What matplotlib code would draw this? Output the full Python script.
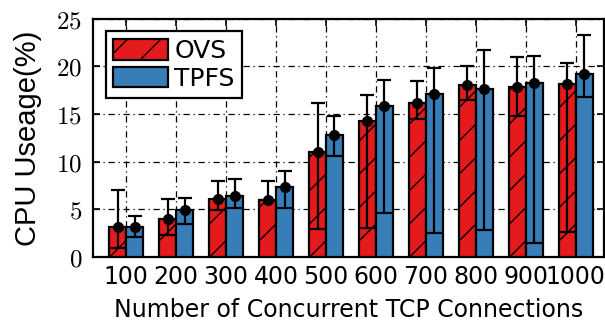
import numpy as np
import matplotlib.pyplot as plt

plt.rcParams['mathtext.fontset'] = 'cm'
plt.rcParams['hatch.linewidth'] = 1.0

connections = ['100', '200', '300', '400', '500', '600', '700', '800', '900', '1000']

ovs_mean = [3.2, 4.0, 6.1, 6.0, 11.0, 14.3, 16.2, 18.1, 17.8, 18.2]
ovs_low = [1.0, 2.3, 4.9, 6.0, 2.9, 3.05, 14.5, 16.5, 14.8, 2.6]
ovs_high = [7.0, 6.1, 8.0, 7.95, 16.15, 17.05, 18.5, 20.05, 21.0, 20.35]

tpfs_mean = [3.2, 4.95, 6.4, 7.4, 12.8, 15.85, 17.1, 17.6, 18.25, 19.2]
tpfs_low = [2.15, 3.45, 5.2, 5.2, 10.6, 4.6, 2.5, 2.85, 1.5, 16.8]
tpfs_high = [4.3, 6.2, 8.15, 9.05, 14.75, 18.6, 19.8, 21.7, 21.05, 23.3]

red = '#E41A1C'
blue = '#377EB8'

x = np.arange(len(connections))
w = 0.34

fig = plt.figure(figsize=(6.05, 3.3), dpi=100)
ax = fig.add_axes([0.154, 0.221, 0.844, 0.722])

def draw(xpos, mean, low, high, color, hatch, label):
    mean = np.array(mean)
    low = np.array(low)
    high = np.array(high)
    ax.bar(xpos, mean, w, color=color, edgecolor='black', linewidth=1.6,
           hatch=hatch, label=label, zorder=3)
    err = [mean - low, high - mean]
    res = ax.errorbar(xpos, mean, yerr=err, fmt='o', color='black', ms=7,
                      elinewidth=1.6, capsize=5, capthick=1.6, zorder=4)
    res[1][0].set_visible(False)
    ax.hlines(low, xpos - w / 2, xpos + w / 2, color='black', lw=1.6, zorder=4)

draw(x - w / 2, ovs_mean, ovs_low, ovs_high, red, '/', 'OVS')
draw(x + w / 2, tpfs_mean, tpfs_low, tpfs_high, blue, '', 'TPFS')

ax.set_xlim(-0.66, 9.56)
ax.set_ylim(0, 25)
ax.set_xticks(x)
ax.set_xticklabels(connections, fontsize=17, family='DejaVu Sans')
ax.set_yticks([0, 5, 10, 15, 20, 25])
ax.set_yticklabels([r'$%d$' % v for v in [0, 5, 10, 15, 20, 25]], fontsize=18)
ax.tick_params(axis='x', direction='in', top=True, length=5, width=1.2, pad=6)
ax.tick_params(axis='y', direction='in', right=True, length=5, width=1.2, pad=8)
ax.grid(True, color='black', lw=0.9, linestyle=(0, (5, 3, 1, 3)), zorder=0)
ax.set_axisbelow(True)
for s in ax.spines.values():
    s.set_linewidth(1.6)

ax.set_xlabel('Number of Concurrent TCP Connections', fontsize=17, family='DejaVu Sans',
              labelpad=6)
ax.set_ylabel('CPU Useage(%)', fontsize=21, family='Liberation Sans', labelpad=10)

leg = ax.legend(loc='upper left', frameon=True, fancybox=False,
                edgecolor='black', framealpha=1, handlelength=2.2, handleheight=0.9,
                borderpad=0.3, labelspacing=0.15, handletextpad=0.25,
                borderaxespad=0.5, prop={'family': 'DejaVu Sans', 'size': 18})
leg.get_frame().set_linewidth(1.6)

fig.savefig('out.png', dpi=100)
